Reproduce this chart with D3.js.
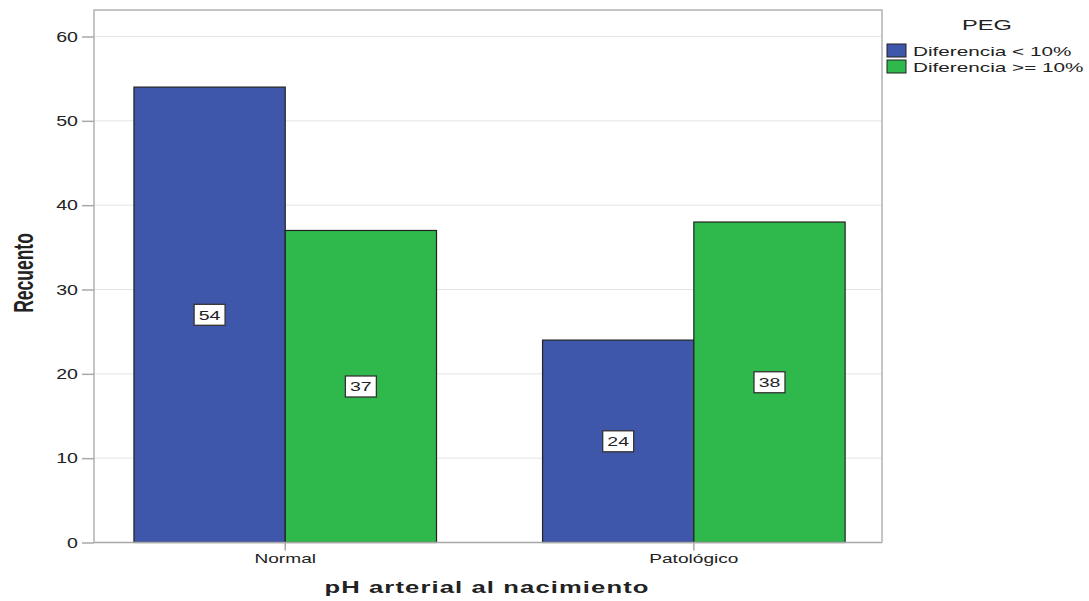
<!DOCTYPE html>
<html>
<head>
<meta charset="utf-8">
<script src="https://cdn.jsdelivr.net/npm/d3@7"></script>
<style>
  html, body { margin: 0; padding: 0; background: #fff; }
  svg text { font-family: "Liberation Sans", Arial, sans-serif; fill: #222; }
</style>
</head>
<body>
<svg id="chart" width="1089" height="601"></svg>
<script>
// Counts of PEG difference groups by arterial pH at birth
const categories = ["Normal", "Patológico"];
const seriesNames = ["Diferencia < 10%", "Diferencia >= 10%"];
const seriesBelow10 = [54, 24];
const seriesAbove10 = [37, 38];
const yTicks = [0, 10, 20, 30, 40, 50, 60];
const seriesColors = ["#3e57aa", "#2fb84b"];

const data = categories.map((c, i) => ({
  category: c,
  values: [
    { series: seriesNames[0], value: seriesBelow10[i] },
    { series: seriesNames[1], value: seriesAbove10[i] }
  ]
}));

const svg = d3.select("#chart");
const plot = { left: 94, right: 882, top: 10, bottom: 542.5 };

const y = d3.scaleLinear().domain([0, 60]).range([plot.bottom, 36.5]);
const x = d3.scaleBand().domain(categories)
  .range([plot.left, plot.right]).paddingInner(0.2595).paddingOuter(0.094).align(0.52);
const xs = d3.scaleBand().domain(seriesNames).range([0, x.bandwidth()]);
const color = d3.scaleOrdinal().domain(seriesNames).range(seriesColors);

// helper: text drawn with horizontal widening
function wideText(sel, px, py, str, opts) {
  const o = Object.assign({ anchor: "middle", size: 13, weight: "normal", rotate: 0, sx: 1.45, ls: 0 }, opts || {});
  return sel.append("text")
    .attr("transform", `translate(${px},${py}) scale(${o.sx},1)` + (o.rotate ? ` rotate(${o.rotate})` : ""))
    .attr("text-anchor", o.anchor)
    .attr("font-size", o.size)
    .attr("font-weight", o.weight)
    .attr("letter-spacing", o.ls)
    .text(str);
}

// gridlines
svg.append("g").selectAll("line").data(yTicks.filter(d => d > 0)).join("line")
  .attr("x1", plot.left).attr("x2", plot.right)
  .attr("y1", d => y(d)).attr("y2", d => y(d))
  .attr("stroke", "#e4e4e4").attr("stroke-width", 1);

// frame
svg.append("path")
  .attr("d", `M${plot.left},${plot.bottom}V${plot.top}H${plot.right}V${plot.bottom}`)
  .attr("stroke", "#b3b3b3").attr("stroke-width", 1.5).attr("fill", "none");

// y axis
const yAxis = svg.append("g").attr("transform", `translate(${plot.left},0)`)
  .call(d3.axisLeft(y).tickValues(yTicks).tickSize(12).tickFormat(""));
yAxis.select(".domain").remove();
yAxis.selectAll(".tick line").attr("stroke", "#a8a8a8").attr("stroke-width", 1.5);
yTicks.forEach(t => wideText(svg, plot.left - 16, y(t) + 5, String(t), { anchor: "end", size: 14, sx: 1.4 }));

// bars
const groups = svg.append("g").selectAll("g").data(data).join("g")
  .attr("transform", d => `translate(${x(d.category)},0)`);
groups.selectAll("rect").data(d => d.values).join("rect")
  .attr("x", d => xs(d.series))
  .attr("y", d => y(d.value))
  .attr("width", xs.bandwidth())
  .attr("height", d => y(0) - y(d.value))
  .attr("fill", d => color(d.series))
  .attr("stroke", "#222").attr("stroke-width", 1.2);

// value labels at mid-height of each bar
groups.each(function(d) {
  const g = d3.select(this);
  d.values.forEach(v => {
    const cx = xs(v.series) + xs.bandwidth() / 2;
    const cy = y(v.value / 2);
    g.append("rect").attr("x", cx - 15.5).attr("y", cy - 10.5).attr("width", 31).attr("height", 21)
      .attr("fill", "#fff").attr("stroke", "#333").attr("stroke-width", 1.3);
    wideText(g, cx, cy + 5, String(v.value), { size: 13, sx: 1.5 });
  });
});

// x axis line and ticks
svg.append("line").attr("x1", plot.left).attr("x2", plot.right)
  .attr("y1", plot.bottom).attr("y2", plot.bottom)
  .attr("stroke", "#a8a8a8").attr("stroke-width", 1.5);
const xAxis = svg.append("g").attr("transform", `translate(0,${plot.bottom})`)
  .call(d3.axisBottom(x).tickSize(8).tickFormat(""));
xAxis.select(".domain").remove();
xAxis.selectAll(".tick line").attr("stroke", "#a8a8a8").attr("stroke-width", 1.5);
categories.forEach(c => wideText(svg, x(c) + x.bandwidth() / 2, 563, c, { size: 13, sx: 1.47 }));

// axis titles
wideText(svg, 487, 593, "pH arterial al nacimiento", { size: 16, weight: "bold", sx: 1.6, ls: 0.7 });
wideText(svg, 33, 273, "Recuento", { size: 17.5, weight: "bold", sx: 1.6, rotate: -90 });

// legend
const legend = svg.append("g");
wideText(legend, 987, 30, "PEG", { size: 14, sx: 1.69 });
seriesNames.forEach((s, i) => {
  legend.append("rect").attr("x", 887).attr("y", 44 + i * 16).attr("width", 19).attr("height", 13)
    .attr("fill", color(s)).attr("stroke", "#222").attr("stroke-width", 1);
  wideText(legend, 913, 56 + i * 16, s, { anchor: "start", size: 12.5, sx: 1.66 });
});
</script>
</body>
</html>
